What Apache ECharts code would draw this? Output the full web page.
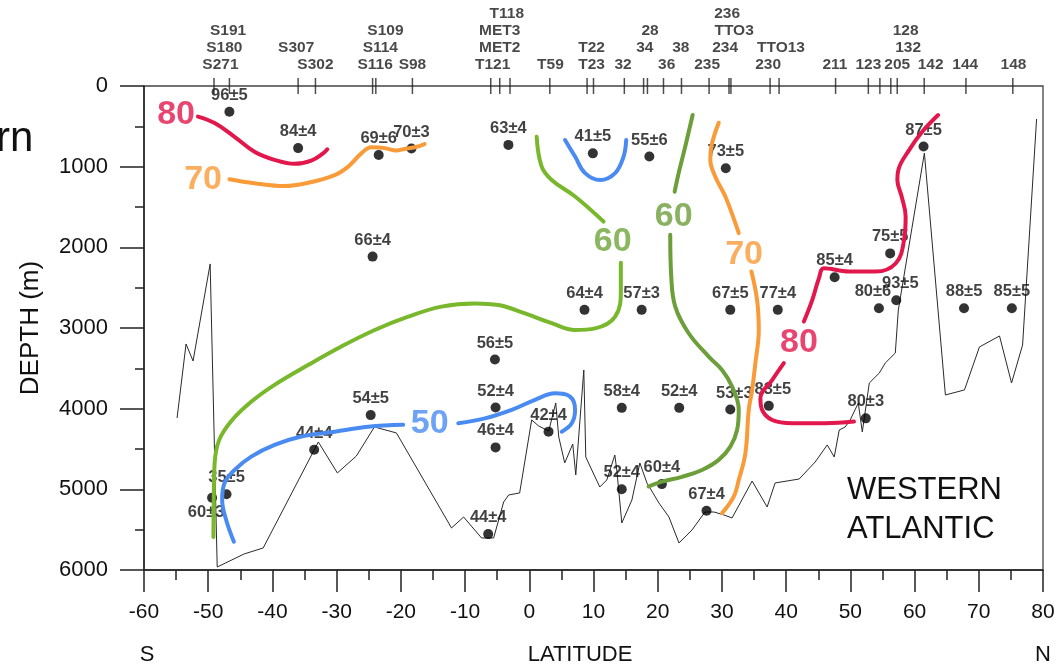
<!DOCTYPE html>
<html>
<head>
<meta charset="utf-8">
<title>Western Atlantic section</title>
<script src="https://cdn.jsdelivr.net/npm/echarts@6.0.0/dist/echarts.min.js"></script>
<style>
  html, body { margin: 0; padding: 0; background: #fff; }
  #chart { width: 1056px; height: 670px; }
</style>
</head>
<body>
<div id="chart"></div>
<script>
// ---- Station positions along the top axis (latitude) ----
const stationLat = [-49.1, -46.7, -36.0, -33.3, -24.4, -23.9, -18.2, -6.0, -4.6, -3.0, 3.2, 9.0, 10.0,
  14.8, 17.8, 18.4, 20.9, 23.7, 28.0, 31.1, 31.4, 37.5, 38.9, 47.7, 52.8, 54.6, 56.3, 57.3, 61.5, 68.0, 75.3];

// ---- Station names and the latitude each name sits over ----
const stationNames = ['S191', 'S180', 'S271', 'S307', 'S302', 'S109', 'S114', 'S116', 'S98',
  'T118', 'MET3', 'MET2', 'T121', 'T59', 'T22', 'T23', '32', '28', '34', '36', '38', '235',
  '236', 'TTO3', '234', 'TTO13', '230', '211', '123', '205', '128', '132', '142', '144', '148'];
const stationNameLat = [-46.9, -47.5, -48.1, -36.3, -33.3, -22.4, -23.2, -24.0, -18.2,
  -3.5, -4.6, -4.6, -5.7, 3.3, 9.7, 9.7, 14.6, 18.8, 18.0, 21.4, 23.6, 27.7,
  30.8, 31.9, 30.5, 39.2, 37.2, 47.6, 52.8, 57.3, 58.6, 59.0, 62.5, 67.9, 75.4];

// ---- Sample values (latitude, depth in m, label) ----
const sampleLat = [-46.7, -36.0, -23.45, -18.35, -24.4, -3.25, 9.9, 18.7, 30.6, 8.6, 17.5, 31.3, 38.7,
  -5.35, -5.25, -5.25, 3.0, -6.4, 14.4, 23.35, 31.3, 37.3, 14.4, 20.65, 27.6, 52.4, 47.55, 56.2,
  54.45, 57.15, 67.7, 75.15, 61.4, -24.7, -33.5, -47.15, -49.4];
const sampleDepth = [320, 770, 855, 775, 2115, 730, 835, 875, 1020, 2775, 2775, 2775, 2775,
  3390, 3985, 4480, 4285, 5555, 3990, 3990, 4010, 3965, 5000, 4935, 5265, 4120, 2370, 2075,
  2755, 2655, 2755, 2755, 750, 4080, 4510, 5060, 5105];
const sampleLabel = ['96±5', '84±4', '69±6', '70±3', '66±4', '63±4', '41±5', '55±6', '73±5', '64±4', '57±3', '67±5', '77±4',
  '56±5', '52±4', '46±4', '42±4', '44±4', '58±4', '52±4', '53±3', '83±5', '52±4', '60±4', '67±4', '80±3', '85±4', '75±5',
  '80±6', '93±5', '88±5', '85±5', '87±5', '54±5', '44±4', '35±5', '60±3'];

// ---- Sea-floor profile (latitude, depth in m) ----
const floorLat = [-54.85, -53.45, -52.36, -49.7, -48.6, -44.4, -41.44, -32.85, -29.89, -26.93, -24.12, -20.69,
  -12.11, -10.23, -7.43, -5.55, -3.99, -3.21, -1.5, 0.37, 1.47, 3.03, 4.12, 4.59, 5.52, 6.77, 7.24, 8.49, 8.8,
  9.73, 10.98, 12.07, 13.32, 13.63, 14.41, 15.98, 17.22, 18.32, 20.19, 21.75, 23.31, 25.34, 27.36, 28.77, 30.33,
  31.58, 34.7, 37.04, 38.28, 42.03, 44.52, 46.4, 47.49, 48.27, 49.2, 49.98, 51.23, 51.86, 52.95, 54.51, 55.44,
  57.0, 57.47, 61.53, 64.8, 67.77, 70.1, 73.23, 75.1, 76.82, 79.0];
const floorDepth = [4116, 3198, 3409, 2206, 5963, 5801, 5727, 4413, 4797, 4587, 4227, 4301,
  5479, 5343, 5603, 5603, 5157, 5070, 5045, 4140, 4215, 4277, 3930, 4351, 4673, 4438, 4822, 3521, 4599,
  4760, 4971, 4884, 4574, 4760, 5417, 5132, 4673, 4921, 5169, 5343, 5665, 5504, 5281, 5281, 5318,
  5355, 4897, 5219, 4921, 4872, 4661, 4450, 4599, 4264, 4227, 4140, 3930, 4289, 3682, 3558, 3434,
  3310, 2777, 831, 3830, 3768, 3235, 3099, 3682, 3211, 409];

// ---- Contours (latitude, depth in m) ----
const iso80West = [[-51.6, 380], [-49.0, 460], [-45.9, 630], [-42.8, 815], [-39.7, 915], [-36.55, 965],
  [-33.95, 925], [-32.1, 835], [-31.45, 785]];
const iso70West = [[-46.7, 1155], [-42.8, 1205], [-38.1, 1240], [-34.45, 1200], [-30.3, 1105], [-28.2, 1000],
  [-26.15, 835], [-24.6, 760], [-22.5, 770], [-20.7, 800], [-19.4, 780], [-17.85, 760], [-16.3, 720]];
const iso50Upper = [[5.57, 670], [7.13, 875], [8.69, 1080], [11.03, 1165], [13.37, 1080], [14.68, 875], [15.09, 670]];
const iso60WestA = [[1.15, 630], [1.93, 1000], [3.49, 1165], [7.13, 1370], [11.56, 1680]];
const iso60WestB = [[14.26, 2190], [14.26, 2530], [13.37, 2860], [10.25, 3005], [7.13, 3025], [3.49, 2940],
  [-0.67, 2820], [-4.82, 2715], [-8.47, 2695], [-13.67, 2735], [-18.86, 2860], [-24.07, 3025], [-29.27, 3230],
  [-34.46, 3460], [-39.67, 3705], [-43.31, 3915], [-46.43, 4155], [-48.3, 4390], [-49.0, 4675], [-49.13, 5095],
  [-49.19, 5590]];
const iso50WestA = [[-46.0, 5650], [-47.2, 5380], [-47.83, 5130], [-47.47, 4925], [-45.9, 4760], [-43.3, 4595],
  [-39.67, 4450], [-35.5, 4345], [-30.3, 4285], [-25.1, 4225], [-19.64, 4200]];
const iso50WestB = [[-11.06, 4180], [-6.91, 4120], [-2.75, 4015], [0.89, 3890], [4.01, 3810], [6.35, 3850],
  [7.13, 4015], [6.61, 4180], [5.05, 4285]];
const iso60EastA = [[25.44, 360], [24.29, 750], [23.26, 1080], [22.64, 1310]];
const iso60EastB = [[21.95, 1845], [22.11, 2365], [22.73, 2735], [24.82, 3065], [27.94, 3355], [30.02, 3520],
  [31.58, 3725], [32.62, 4015], [32.36, 4265], [31.31, 4470], [29.5, 4635], [26.9, 4760], [23.78, 4845],
  [20.66, 4905], [18.58, 4965]];
const iso70EastA = [[29.5, 455], [28.35, 750], [28.19, 915], [28.97, 1125], [30.53, 1370], [32.09, 1700], [32.62, 1825]];
const iso70EastB = [[34.59, 2300], [35.48, 2655], [35.74, 3025], [35.21, 3435], [34.7, 3770], [34.18, 4015],
  [33.65, 4555], [32.62, 4885], [31.84, 5090], [30.02, 5295]];
const iso80EastA = [[63.67, 360], [61.22, 565], [59.14, 795], [57.47, 1040], [57.32, 1165], [57.99, 1370],
  [58.61, 1620], [58.36, 1910], [57.05, 2200], [53.93, 2300], [49.78, 2300], [45.88, 2260], [45.1, 2385],
  [44.06, 2655], [42.76, 2920]];
const iso80EastB = [[39.64, 3435], [37.82, 3645], [35.99, 3870], [36.26, 4015], [37.82, 4140], [40.94, 4180],
  [46.13, 4180], [50.56, 4160]];

// ---- Contour value labels ----
const isoLabelText = ['80', '70', '60', '60', '70', '80', '50'];
const isoLabelLat = [-55.0, -50.8, 13.0, 22.5, 33.45, 42.0, -15.5];
const isoLabelDepth = [360, 1165, 1935, 1625, 2085, 3185, 4190];

// ---- Styling ----
const FONT = '"Liberation Sans", Arial, Helvetica, sans-serif';
const RED = '#E2184C', ORANGE = '#F99B38', GREEN = '#79B72D', OLIVE = '#6C9E3A', BLUE = '#4A8BF2';
const isoLabelColor = [RED, ORANGE, '#6FA53A', OLIVE, ORANGE, RED, BLUE];

// vertical stacking of the station names above the top axis (0 = highest line)
const stationNameRow = [1, 2, 3, 2, 3, 1, 2, 3, 3, 0, 1, 2, 3, 3, 2, 3, 3, 1, 2, 3, 2, 3, 0, 1, 2, 2, 3, 3, 3, 3, 1, 2, 3, 3, 3];
// per-sample label placement where the default (above the dot) would collide
const sampleLabelTweak = {
  20: { offset: [4, 0] },
  21: { offset: [4, 0] },
  28: { offset: [-6, 0] },
  29: { offset: [4, 0] },
  36: { position: 'bottom', distance: 1, offset: [-6, 0] }
};

const chart = echarts.init(document.getElementById('chart'), null, { renderer: 'canvas' });

function contour(data, color) {
  return {
    type: 'line', data: data, smooth: 0.4, showSymbol: false, symbol: 'none',
    lineStyle: { color: color, width: 4, cap: 'round' }, z: 5, silent: true
  };
}

const axisColor = '#222';
const textColor = '#111';

const option = {
  animation: false,
  backgroundColor: '#ffffff',
  textStyle: { fontFamily: FONT },
  grid: {
    left: 144, right: 13, top: 86, bottom: 100, outerBoundsMode: 'none', containLabel: false,
    show: true, borderColor: '#444', borderWidth: 1.3
  },
  xAxis: {
    type: 'value', min: -60, max: 80, interval: 10,
    axisLine: { show: true, onZero: false, lineStyle: { color: axisColor, width: 1.5 } },
    axisTick: { show: true, length: 22, lineStyle: { color: axisColor, width: 1.5 } },
    minorTick: { show: true, splitNumber: 2, length: 10, lineStyle: { color: axisColor, width: 1.5 } },
    axisLabel: { margin: 32, fontSize: 21, color: textColor, fontFamily: FONT, formatter: v => String(v) },
    splitLine: { show: false }, minorSplitLine: { show: false }
  },
  yAxis: {
    type: 'value', inverse: true, min: 0, max: 6000, interval: 1000,
    name: 'DEPTH (m)', nameLocation: 'middle', nameGap: 100, nameRotate: 90,
    nameTextStyle: { fontSize: 26, color: textColor, fontFamily: FONT },
    axisLine: { show: true, onZero: false, lineStyle: { color: axisColor, width: 1.5 } },
    axisTick: { show: true, length: 24, lineStyle: { color: axisColor, width: 1.5 } },
    minorTick: { show: true, splitNumber: 2, length: 9, lineStyle: { color: axisColor, width: 1.5 } },
    axisLabel: { margin: 36, fontSize: 22, color: textColor, fontFamily: FONT, formatter: v => String(v) },
    splitLine: { show: false }, minorSplitLine: { show: false }
  },
  graphic: [
    { type: 'text', x: -4, y: 139, style: { text: 'rn', fontSize: 42, fontFamily: FONT, fill: textColor, textVerticalAlign: 'middle', verticalAlign: 'middle' } },
    { type: 'text', x: 147, y: 655, style: { text: 'S', fontSize: 22, fontFamily: FONT, fill: textColor, textAlign: 'center', align: 'center', textVerticalAlign: 'middle', verticalAlign: 'middle' } },
    { type: 'text', x: 580, y: 655, style: { text: 'LATITUDE', fontSize: 22, fontFamily: FONT, fill: textColor, textAlign: 'center', align: 'center', textVerticalAlign: 'middle', verticalAlign: 'middle' } },
    { type: 'text', x: 1043, y: 655, style: { text: 'N', fontSize: 22, fontFamily: FONT, fill: textColor, textAlign: 'center', align: 'center', textVerticalAlign: 'middle', verticalAlign: 'middle' } },
    { type: 'text', x: 847, y: 471, style: { text: 'WESTERN\nATLANTIC', fontSize: 31, lineHeight: 39, fontFamily: FONT, fill: textColor } }
  ],
  series: [
    // sea floor
    {
      type: 'line', data: floorLat.map((x, i) => [x, floorDepth[i]]), showSymbol: false, symbol: 'none',
      lineStyle: { color: '#2a2a2a', width: 1 }, z: 1, silent: true
    },
    // station ticks on the top axis
    {
      type: 'scatter', data: stationLat.map(x => [x, 0]), symbol: 'rect', symbolSize: [1.5, 16],
      itemStyle: { color: '#222' }, clip: false, z: 4, silent: true
    },
    // station names
    {
      type: 'scatter', clip: false, symbolSize: 1, itemStyle: { color: 'rgba(0,0,0,0)' }, silent: true, z: 4,
      data: stationNameLat.map((x, i) => ({
        value: [x, 0],
        label: { offset: [0, 14 + 17 * stationNameRow[i] - 86] }
      })),
      label: {
        show: true, position: 'inside', formatter: p => stationNames[p.dataIndex],
        fontSize: 15.5, fontWeight: 'bold', color: '#1a1a1a', fontFamily: FONT
      }
    },
    // sample points
    {
      type: 'scatter', symbolSize: 10, itemStyle: { color: '#000' }, z: 3, silent: true,
      data: sampleLat.map((x, i) => {
        const item = { value: [x, sampleDepth[i]] };
        if (sampleLabelTweak[i]) item.label = sampleLabelTweak[i];
        return item;
      }),
      label: {
        show: true, position: 'top', distance: 3, formatter: p => sampleLabel[p.dataIndex],
        fontSize: 16.5, fontWeight: 'bold', color: '#111', fontFamily: FONT
      }
    },
    contour(iso80West, RED),
    contour(iso70West, ORANGE),
    contour(iso50Upper, BLUE),
    contour(iso60WestA, GREEN),
    contour(iso60WestB, GREEN),
    contour(iso50WestA, BLUE),
    contour(iso50WestB, BLUE),
    contour(iso60EastA, OLIVE),
    contour(iso60EastB, OLIVE),
    contour(iso70EastA, ORANGE),
    contour(iso70EastB, ORANGE),
    contour(iso80EastA, RED),
    contour(iso80EastB, RED),
    // contour value labels
    {
      type: 'scatter', symbolSize: 1, itemStyle: { color: 'rgba(0,0,0,0)' }, z: 6, silent: true, clip: false,
      data: isoLabelLat.map((x, i) => ({
        value: [x, isoLabelDepth[i]],
        label: { color: isoLabelColor[i] }
      })),
      label: {
        show: true, position: 'inside', formatter: p => isoLabelText[p.dataIndex],
        fontSize: 34, fontWeight: 'bold', fontFamily: FONT
      }
    }
  ]
};

chart.setOption(option);
</script>
</body>
</html>
